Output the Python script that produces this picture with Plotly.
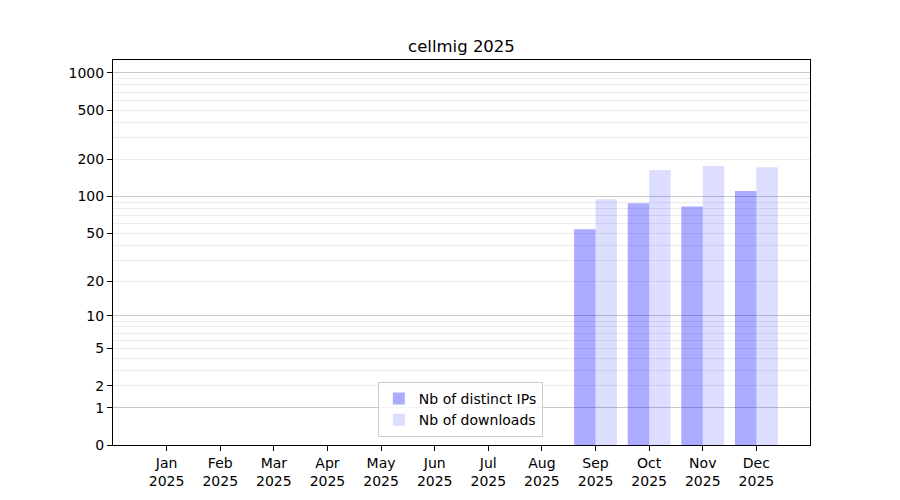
import numpy as np
import plotly.graph_objects as go

# donnees
mois = ['Jan', 'Feb', 'Mar', 'Apr', 'May', 'Jun', 'Jul', 'Aug', 'Sep', 'Oct', 'Nov', 'Dec']
annee = '2025'
ips_distinctes = [0, 0, 0, 0, 0, 0, 0, 0, 54, 88, 83, 111]
telechargements = [0, 0, 0, 0, 0, 0, 0, 0, 95, 164, 177, 173]

ticks_y = [0, 1, 2, 5, 10, 20, 50, 100, 200, 500, 1000]
grille_majeure = [1, 10, 100, 1000]
grille_mineure = [m * 10 ** e for e in range(3) for m in range(2, 10)]


# echelle log(1 + x) comme sur la figure d'origine
def echelle(v):
    return np.log10(1 + np.asarray(v, dtype=float))


etiquettes_x = [f'{m}<br>{annee}' for m in mois]
police = dict(family='DejaVu Sans', size=14, color='black')

fig = go.Figure()
fig.add_trace(go.Bar(x=etiquettes_x, y=echelle(ips_distinctes), name='Nb of distinct IPs',
                     marker=dict(color='rgba(0,0,255,0.33)', line=dict(width=0)),
                     alignmentgroup='g', offsetgroup='1',
                     customdata=ips_distinctes, hovertemplate='%{customdata}'))
# second axe y superpose : il porte la grille principale (1, 10, 100, 1000)
fig.add_trace(go.Bar(x=etiquettes_x, y=echelle(telechargements), name='Nb of downloads',
                     marker=dict(color='rgba(0,0,255,0.135)', line=dict(width=0)),
                     alignmentgroup='g', offsetgroup='2', yaxis='y2',
                     customdata=telechargements, hovertemplate='%{customdata}'))

y_max = 3.105

fig.update_layout(
    width=900, height=500,
    paper_bgcolor='white', plot_bgcolor='white',
    margin=dict(l=105, r=98, t=52, b=63),
    font=police,
    barmode='group', bargap=0.2, bargroupgap=0,
    title=dict(text='cellmig 2025', x=0.5, xref='paper', xanchor='center',
               y=1 - 38 / 500, yanchor='middle',
               font=dict(family='DejaVu Sans', size=16.5, color='black')),
    xaxis=dict(range=[-1, 12], showline=True, linecolor='black', linewidth=1, mirror=True,
               ticks='outside', ticklen=5, tickcolor='black', showgrid=False,
               tickfont=police, tickangle=0),
    yaxis=dict(range=[0, y_max], showline=True, linecolor='black', linewidth=1, mirror=True,
               ticks='outside', ticklen=5, tickcolor='black', showgrid=False, zeroline=False,
               tickmode='array', tickvals=echelle(ticks_y), ticktext=[str(t) for t in ticks_y],
               tickfont=police,
               minor=dict(tickmode='array', tickvals=echelle(grille_mineure), showgrid=True,
                          gridcolor='#ececec', gridwidth=1, ticks='')),
    yaxis2=dict(range=[0, y_max], overlaying='y', side='left', showticklabels=False,
                ticks='', showline=False, zeroline=False,
                tickmode='array', tickvals=echelle(grille_majeure),
                showgrid=True, gridcolor='#c8c8c8', gridwidth=1),
    legend=dict(x=0.38, y=0.021, xanchor='left', yanchor='bottom',
                bgcolor='rgba(255,255,255,0.8)', bordercolor='#cccccc', borderwidth=1,
                font=police, traceorder='normal'),
)

fig.write_html('out.html')
